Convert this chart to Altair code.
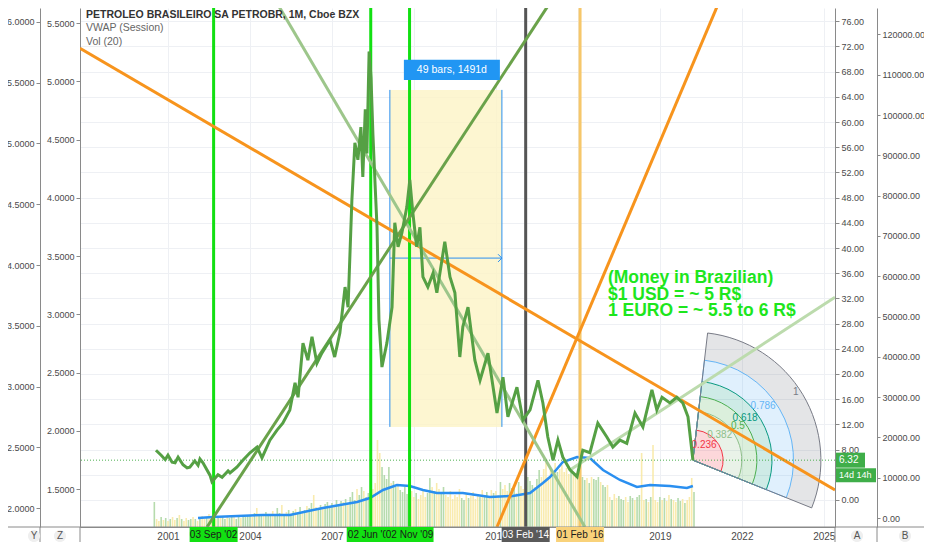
import altair as alt
import pandas as pd

# monthly closes (fractional year, USD)
PRICE_T = [2000.56, 2000.75, 2000.90, 2001.00, 2001.15, 2001.26, 2001.37, 2001.55, 2001.70, 2001.80,
           2001.98, 2002.10, 2002.17, 2002.28, 2002.54, 2002.61, 2002.83, 2002.98, 2003.20, 2003.27,
           2003.52, 2003.74, 2004.00, 2004.26, 2004.44, 2004.73, 2004.99, 2005.20, 2005.46, 2005.65,
           2005.76, 2005.94, 2006.12, 2006.27, 2006.45, 2006.63, 2006.93, 2007.10, 2007.29, 2007.48,
           2007.59, 2007.73, 2007.84, 2007.95, 2008.06, 2008.13, 2008.22, 2008.28, 2008.36, 2008.43,
           2008.50, 2008.58, 2008.65, 2008.72, 2008.83, 2009.01, 2009.20, 2009.30, 2009.42, 2009.56,
           2009.74, 2009.85, 2009.96, 2010.10, 2010.22, 2010.33, 2010.51, 2010.70, 2010.84, 2011.13,
           2011.32, 2011.50, 2011.68, 2011.79, 2011.98, 2012.23, 2012.42, 2012.71, 2013.04, 2013.26,
           2013.44, 2013.77, 2013.99, 2014.25, 2014.54, 2014.72, 2014.90, 2015.09, 2015.27, 2015.45,
           2015.71, 2015.97, 2016.18, 2016.44, 2016.73, 2017.06, 2017.28, 2017.54, 2017.79, 2018.09,
           2018.38, 2018.71, 2018.89, 2019.08, 2019.37, 2019.62, 2019.84, 2020.03, 2020.21]
PRICE_V = [7.9, 7.1, 6.4, 7.1, 6.0, 5.9, 6.8, 5.6, 5.1, 5.2,
           6.2, 5.5, 6.5, 5.9, 3.9, 2.9, 4.0, 3.6, 4.6, 4.3,
           5.2, 6.3, 7.5, 8.4, 6.7, 9.5, 11.1, 12.2, 14.3, 18.6,
           16.3, 24.9, 22.2, 25.9, 21.7, 23.3, 25.4, 22.7, 26.5, 33.8,
           30.6, 47.6, 56.7, 54.0, 59.2, 51.3, 62.0, 55.0, 71.2, 67.0,
           58.0, 50.0, 43.3, 28.6, 21.1, 24.9, 30.6, 44.0, 40.2, 42.4,
           46.5, 50.8, 45.6, 40.2, 43.3, 35.4, 33.8, 36.0, 32.9, 41.0,
           35.4, 32.9, 22.7, 27.5, 30.6, 22.2, 19.0, 23.3, 13.8, 19.5,
           13.2, 17.9, 12.7, 14.3, 19.0, 15.4, 10.0, 6.3, 9.5, 6.8,
           4.8, 3.7, 7.9, 7.5, 12.2, 10.0, 8.4, 9.5, 9.0, 13.8,
           11.6, 17.5, 14.3, 16.3, 15.4, 16.3, 15.4, 13.2, 6.32]

# monthly volume (millions of shares), Jul 2000 .. Apr 2020
VOL_FIRST = 2000.5
VOL_M = [
    100, 32, 24, 40, 28, 36,
    24, 32, 40, 28, 36, 48, 32, 24, 36, 28, 32, 40,
    32, 24, 36, 44, 32, 40, 52, 36, 48, 32, 40, 36,
    40, 32, 44, 36, 48, 40, 32, 44, 36, 48, 40, 44,
    48, 40, 56, 76, 44, 52, 48, 60, 44, 52, 64, 48,
    76, 56, 88, 52, 60, 68, 48, 64, 72, 56, 80, 60,
    68, 84, 76, 96, 128, 80, 72, 88, 76, 92, 100, 84,
    96, 80, 108, 88, 104, 100, 112, 96, 120, 140, 108, 152,
    128, 160, 144, 120, 136, 168, 152, 176, 348, 296, 240, 208,
    192, 240, 176, 184, 160, 168, 148, 140, 160, 132, 108, 144,
    120, 136, 112, 128, 144, 120, 136, 196, 160, 144, 176, 152,
    136, 160, 128, 120, 144, 112, 128, 120, 152, 116, 108, 132,
    116, 124, 140, 112, 132, 120, 148, 128, 140, 124, 148, 136,
    144, 128, 180, 152, 168, 144, 176, 156, 160, 136, 180, 164,
    152, 176, 200, 184, 168, 160, 192, 228, 200, 232, 256, 200,
    240, 216, 256, 220, 232, 248, 220, 236, 212, 228, 208, 216,
    212, 216, 200, 188, 196, 176, 200, 192, 188, 200, 180, 168,
    160, 168, 120, 108, 132, 116, 124, 112, 108, 120, 100, 124,
    116, 108, 120, 128, 296, 108, 112, 100, 120, 328, 108, 100,
    120, 108, 116, 104, 128, 112, 108, 100, 116, 104, 112, 96,
    108, 120, 196, 140,
]
VOL_DIR = "".join([
    "gyygyg",
    "ygyygygyyggy", "gygyygyygygy", "ggyggyggyggg", "gygyggygggyg",
    "ggygygggyggy", "gyggyyggyggg", "gygggygygggy", "ggyggyyyyygg",
    "ggyggyggggyy", "ygyyyyggygyy", "ggyyyyyyyggy", "gyyyygyggyyg",
    "yygyyygggygy", "yygggyggyyyy", "ygygyyyyygyy", "ygggygygggyg",
    "gyygyygggyyg", "gyggyygygyyy", "gygyygyyggyg",
    "yyyg",
])

# Vol(20) moving average
MA_T = [2002.10, 2002.65, 2004.48, 2005.46, 2006.31, 2006.67, 2007.29, 2007.92, 2008.39, 2008.87,
        2009.38, 2009.85, 2010.33, 2010.84, 2011.79, 2012.78, 2013.62, 2014.25, 2014.72, 2014.98,
        2015.45, 2015.97, 2016.44, 2016.92, 2017.54, 2018.16, 2018.64, 2019.37, 2019.99, 2020.21]
MA_V = [36, 40, 48, 48, 68, 76, 88, 100, 116, 148,
        168, 164, 148, 136, 136, 120, 124, 136, 176, 200,
        260, 280, 276, 228, 188, 160, 168, 164, 156, 164]

LAST_T, LAST_P = 2020.21, 6.32
COUNTDOWN = "14d 14h"

VLINE_T = [2002.67, 2008.42, 2009.84, 2014.09, 2016.08]
VLINE_LABEL = ["03 Sep '02", "02 Jun '08", "02 Nov '09", "03 Feb '14", "01 Feb '16"]
VLINE_COLOR = ["#12e012", "#12e012", "#12e012", "#555555", "#f6c76a"]
VLINE_BOX = ["#12e012", "#12e012", "#12e012", "#5a5a5a", "#f9d27a"]
VLINE_TEXT = ["#1a1a1a", "#1a1a1a", "#1a1a1a", "#ffffff", "#1a1a1a"]

TREND_T0 = [1997.78, 2013.04, 2004.92, 2002.43, 2015.71]
TREND_P0 = [71.7, -4.29, 79.4, -4.29, 4.76]
TREND_T1 = [2025.41, 2021.20, 2016.26, 2015.05, 2025.41]
TREND_P1 = [1.6, 79.4, -4.29, 79.4, 32.2]
TREND_COLOR = ["#f7941d", "#f7941d", "#9dc68b", "#6aa24a", "#bcdbad"]

RANGE_T = [2009.12, 2013.22]
RANGE_P = [11.6, 65.1]
RANGE_MID = 38.4
RANGE_TEXT = "49 bars, 1491d"

FIB_LEVELS = [0.236, 0.382, 0.5, 0.618, 0.786, 1]
FIB_LABELS = ["0.236", "0.382", "0.5", "0.618", "0.786", "1"]
FIB_COLORS = ["#f23645", "#8fbf8a", "#4caf50", "#089981", "#64b5f6", "#787b86"]
FIB_R = 128
FIB_THETA = (0.115, 1.953)
FIB_LABEL_THETA = 0.995

NOTE = ["(Money in Brazilian)", "$1 USD = ~ 5 R$", "1 EURO = ~ 5.5 to 6 R$"]
NOTE_T, NOTE_P = 2017.1, 36.6
HEADER = ["PETROLEO BRASILEIRO SA PETROBR, 1M, Cboe BZX", "VWAP (Session)", "Vol (20)"]
BUTTONS = ["Y", "Z", "A", "B"]

X_TICKS = list(range(2001, 2026, 3))
A_TICKS = list(range(0, 77, 4))
B_TICKS = list(range(0, 120001, 10000))
Y_TICKS = [2.0, 2.5, 3.0, 3.5, 4.0, 4.5, 5.0, 5.5, 6.0]
Z_TICKS = [1.5, 2.0, 2.5, 3.0, 3.5, 4.0, 4.5, 5.0, 5.5]

W, H = 755, 519
X_DOM = [1997.78, 2025.41]
A_DOM = [-4.29, 78.1]
B_DOM = [-2233, 126551]
Y_DOM = [1.844, 6.115]
Z_DOM = [1.174, 5.629]
VOL_DOM = [0, 2076]

FONT = "Liberation Sans, Arial, sans-serif"
GRID = "#eef0f4"
BLUE = "#2a8ff0"
SEP = "#8a8a8a"

XS = alt.Scale(domain=X_DOM, nice=False, zero=False)
AS = alt.Scale(domain=A_DOM, nice=False, zero=False)
X_AXIS = alt.Axis(values=X_TICKS, format="d", title=None, ticks=False, grid=True, gridColor=GRID,
                  labelPadding=4, labelFlush=False, labelFontSize=10)
A_AXIS = alt.Axis(orient="right", values=A_TICKS, format=".2f", title=None, grid=True,
                  gridColor=GRID, tickSize=4, labelPadding=2)


def xq(field="t"):
    return alt.X(f"{field}:Q", scale=XS, axis=X_AXIS)


def ya(field="p"):
    return alt.Y(f"{field}:Q", scale=AS, axis=A_AXIS)


def side_axis(ticks, dom, orient, offset, fmt, tick=4):
    d = pd.DataFrame({"v": ticks})
    return alt.Chart(d).mark_point(opacity=0).encode(
        y=alt.Y("v:Q", scale=alt.Scale(domain=dom, nice=False, zero=False),
                axis=alt.Axis(orient=orient, offset=offset, values=ticks, format=fmt,
                              title=None, grid=False, tickSize=tick, labelPadding=2))
    )


# ---- volume pane
vol_df = pd.DataFrame({"t": [VOL_FIRST + i / 12 for i in range(len(VOL_M))],
                       "v": VOL_M, "d": list(VOL_DIR)})
VS = alt.Scale(domain=VOL_DOM, nice=False, zero=False)
vol_bars = alt.Chart(vol_df).mark_rule(strokeWidth=1.6, opacity=0.85).encode(
    x=xq(), y=alt.Y("v:Q", scale=VS, axis=None), y2=alt.datum(0),
    color=alt.Color("d:N", scale=alt.Scale(domain=["g", "y"], range=["#a9d59f", "#f8e7a0"]), legend=None),
)
ma_df = pd.DataFrame({"t": MA_T, "v": MA_V})
ma_line = alt.Chart(ma_df).mark_line(color=BLUE, strokeWidth=2.5).encode(
    x=xq(), y=alt.Y("v:Q", scale=VS, axis=None))
vol_group = alt.layer(vol_bars, ma_line)

# ---- price pane
range_df = pd.DataFrame({"t0": [RANGE_T[0]], "t1": [RANGE_T[1]], "p0": [RANGE_P[0]], "p1": [RANGE_P[1]],
                         "mid": [RANGE_MID], "tm": [(RANGE_T[0] + RANGE_T[1]) / 2], "lab": [RANGE_TEXT]})
range_rect = alt.Chart(range_df).mark_rect(color="#fcf4c6", opacity=0.8).encode(
    x=xq("t0"), x2="t1", y=ya("p0"), y2="p1")
edge_df = pd.DataFrame({"t": RANGE_T, "p0": RANGE_P[0], "p1": RANGE_P[1]})
range_edges = alt.Chart(edge_df).mark_rule(color=BLUE, strokeWidth=1).encode(
    x=xq(), y=ya("p0"), y2="p1")
range_arrow = alt.Chart(range_df).mark_rule(color=BLUE, strokeWidth=1).encode(
    x=xq("t0"), x2="t1", y=ya("mid"))
arrow_head = alt.Chart(range_df).mark_point(shape="M-1,-1L0,0L-1,1", size=60, color=BLUE,
                                            strokeWidth=1, filled=False, opacity=1).encode(
    x=xq("t1"), y=ya("mid"))
range_box = alt.Chart(range_df).mark_point(shape="M-1,-0.21H1V0.21H-1Z", size=9216, filled=True,
                                           opacity=1, color="#2196f3", yOffset=-20, xOffset=6).encode(
    x=xq("tm"), y=ya("p1"))
range_lab = alt.Chart(range_df).mark_text(color="white", fontSize=10.5, font=FONT, dy=-20, dx=6).encode(
    x=xq("tm"), y=ya("p1"), text="lab:N")

fib_df = pd.DataFrame({
    "t": LAST_T, "p": LAST_P,
    "r1": [lv * FIB_R for lv in FIB_LEVELS],
    "r0": [0] + [lv * FIB_R for lv in FIB_LEVELS[:-1]],
    "rl": [lv * FIB_R - 2 for lv in FIB_LEVELS],
    "z": 0,
    "c": FIB_COLORS, "lab": FIB_LABELS,
})
fib_fill = alt.Chart(fib_df).mark_arc(theta=FIB_THETA[0], theta2=FIB_THETA[1], fillOpacity=0.2).encode(
    x=xq(), y=ya(), radius=alt.Radius("r1:Q", scale=None, stack=None), radius2=alt.Radius2("r0:Q"),
    fill=alt.Fill("c:N", scale=None))
fib_line = alt.Chart(fib_df).mark_arc(theta=FIB_THETA[0], theta2=FIB_THETA[1], filled=False,
                                      strokeWidth=1).encode(
    x=xq(), y=ya(), radius=alt.Radius("r1:Q", scale=None, stack=None), radius2=alt.Radius2("z:Q"),
    color=alt.Color("c:N", scale=None))
fib_text = alt.Chart(fib_df).mark_text(theta=FIB_LABEL_THETA, align="right", baseline="middle",
                                       fontSize=10, font=FONT).encode(
    x=xq(), y=ya(), radius=alt.Radius("rl:Q", scale=None, stack=None), text="lab:N",
    color=alt.Color("c:N", scale=None))

vline_df = pd.DataFrame({"t": VLINE_T, "c": VLINE_COLOR})
vlines = alt.Chart(vline_df).mark_rule(strokeWidth=3).encode(x=xq(), color=alt.Color("c:N", scale=None))

trend_rows = []
for i in range(len(TREND_T0)):
    trend_rows.append({"id": i, "t": TREND_T0[i], "p": TREND_P0[i], "c": TREND_COLOR[i]})
    trend_rows.append({"id": i, "t": TREND_T1[i], "p": TREND_P1[i], "c": TREND_COLOR[i]})
trends = alt.Chart(pd.DataFrame(trend_rows)).mark_line(strokeWidth=3, clip=True).encode(
    x=xq(), y=ya(), detail="id:N", color=alt.Color("c:N", scale=None))

price_df = pd.DataFrame({"t": PRICE_T, "p": PRICE_V})
price_line = alt.Chart(price_df).mark_line(color="#55a044", strokeWidth=3).encode(x=xq(), y=ya())

last_df = pd.DataFrame({"p": [LAST_P], "cd": [COUNTDOWN]})
last_rule = alt.Chart(last_df).mark_rule(color="#4caf50", strokeWidth=1, strokeDash=[1, 2]).encode(y=ya())
tag1 = alt.Chart(last_df).mark_rule(color="#3fae49", strokeWidth=15).encode(
    x=alt.value(W + 1), x2=alt.value(W + 30), y=ya())
tag1_t = alt.Chart(last_df).mark_text(color="white", align="left", fontSize=10, font=FONT).encode(
    x=alt.value(W + 4), y=ya(), text=alt.Text("p:Q", format=".2f"))
tag2 = alt.Chart(last_df).mark_rule(color="#3fae49", strokeWidth=14, yOffset=15).encode(
    x=alt.value(W + 1), x2=alt.value(W + 41), y=ya())
tag2_t = alt.Chart(last_df).mark_text(color="white", align="left", fontSize=9, font=FONT, dy=15).encode(
    x=alt.value(W + 4), y=ya(), text="cd:N")

note_df = pd.DataFrame({"t": [NOTE_T], "p": [NOTE_P], "txt": [NOTE]})
note = alt.Chart(note_df).mark_text(align="left", baseline="top", fontSize=17.5, fontWeight="bold",
                                    lineHeight=16.5, color="#1de61d", font=FONT).encode(
    x=xq(), y=ya(), text="txt")

head_df = pd.DataFrame({"txt": HEADER})
head1 = alt.Chart(head_df.iloc[:1]).mark_text(align="left", fontSize=10.5, fontWeight="bold",
                                               color="#333333", font=FONT).encode(
    x=alt.value(6), y=alt.value(6.5), text="txt:N")
head2 = alt.Chart(head_df.iloc[1:2]).mark_text(align="left", fontSize=10.5, color="#666666", font=FONT).encode(
    x=alt.value(6), y=alt.value(20), text="txt:N")
head3 = alt.Chart(head_df.iloc[2:3]).mark_text(align="left", fontSize=10.5, color="#666666", font=FONT).encode(
    x=alt.value(6), y=alt.value(33.5), text="txt:N")

tags = []
for t, lab, bg, fg in zip(VLINE_T, VLINE_LABEL, VLINE_BOX, VLINE_TEXT):
    d = pd.DataFrame({"t": [t], "lab": [lab]})
    tags.append(alt.Chart(d).mark_rule(color=bg, strokeWidth=48).encode(
        x=xq(), y=alt.value(H), y2=alt.value(H + 15)))
    tags.append(alt.Chart(d).mark_text(color=fg, fontSize=10, font=FONT).encode(
        x=xq(), y=alt.value(H + 8), text="lab:N"))

# frame lines of the bottom strip and the axis buttons
base_df = pd.DataFrame({"k": [0]})
bottom_line = alt.Chart(base_df).mark_rule(color=SEP, strokeWidth=1).encode(
    x=alt.value(-80), x2=alt.value(W + 89), y=alt.value(H))
sep_df = pd.DataFrame({"px": [-40, 0, W, W + 42]})
seps = alt.Chart(sep_df).mark_rule(color=SEP, strokeWidth=1).encode(
    x=alt.X("px:Q", scale=None), y=alt.value(H), y2=alt.value(H + 15))
btn_df = pd.DataFrame({"b": BUTTONS, "px": [-46, -20, W + 22, W + 70]})
buttons = alt.Chart(btn_df).mark_circle(size=150, color="#efefef", opacity=1).encode(
    x=alt.X("px:Q", scale=None), y=alt.value(H + 9))
btn_text = alt.Chart(btn_df).mark_text(fontSize=10, color="#555555", font=FONT).encode(
    x=alt.X("px:Q", scale=None), y=alt.value(H + 9), text="b:N")

price_group = alt.layer(
    range_rect, range_edges, range_arrow, arrow_head,
    fib_fill, fib_line, fib_text,
    vlines, trends, price_line, last_rule,
    range_box, range_lab, note, head1, head2, head3,
    tag1, tag1_t, tag2, tag2_t, bottom_line, seps, buttons, btn_text,
    *tags,
)

y_group = side_axis(Y_TICKS, Y_DOM, "left", 40, ".4f")
z_group = side_axis(Z_TICKS, Z_DOM, "left", 0, ".4f")
b_group = side_axis(B_TICKS, B_DOM, "right", 42, ".2f", tick=3)

chart = (
    alt.layer(y_group, z_group, vol_group, b_group, price_group)
    .resolve_scale(y="independent")
    .properties(
        width=W, height=H,
        autosize=alt.AutoSizeParams(type="none"),
        padding={"left": 72, "top": 0, "right": 89, "bottom": 15},
        background="white",
    )
    .configure_view(strokeWidth=0)
    .configure_axis(labelFont=FONT, labelFontSize=9, labelColor="#4a4a4a",
                    domainColor=SEP, tickColor=SEP, labelOverlap=False)
)

chart.save("out.html", embed_options={"renderer": "svg", "actions": False})
